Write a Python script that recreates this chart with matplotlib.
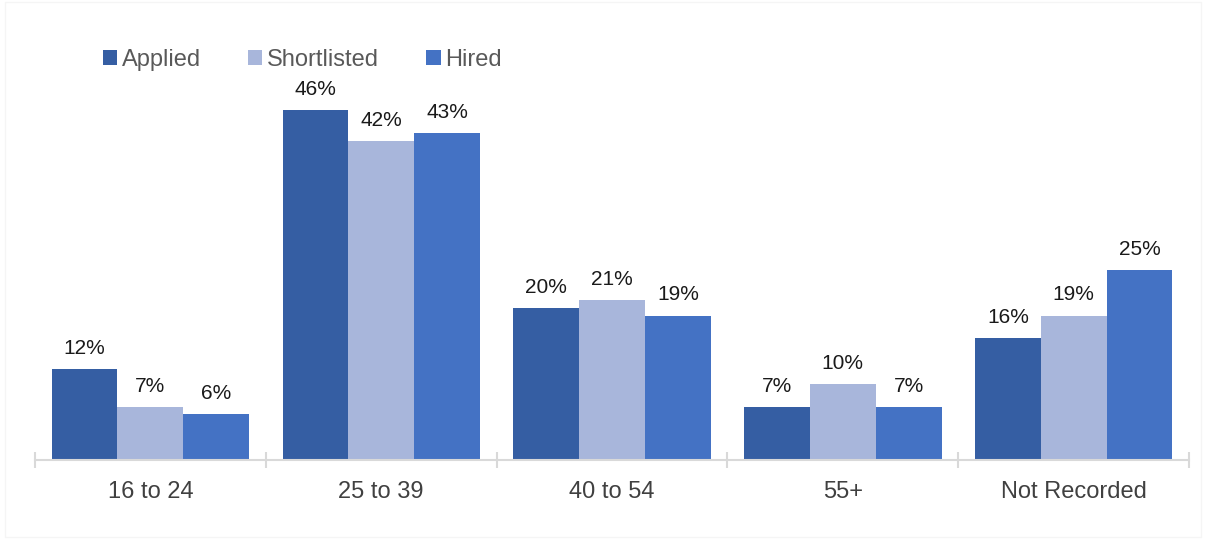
import numpy as np
import matplotlib.pyplot as plt

plt.rcParams['font.family'] = ['Liberation Sans', 'DejaVu Sans']

groups = ['16 to 24', '25 to 39', '40 to 54', '55+', 'Not Recorded']
applied = [12, 46, 20, 7, 16]
shortlisted = [7, 42, 21, 10, 19]
hired = [6, 43, 19, 7, 25]

series = [('Applied', applied, '#355EA3'),
          ('Shortlisted', shortlisted, '#A8B6DB'),
          ('Hired', hired, '#4472C4')]

fig = plt.figure(figsize=(12.06, 5.39), dpi=100)
ax = fig.add_axes([0.029, 0.1466, 0.957, 0.705])

x = np.arange(len(groups))
w = 0.285
for i, (name, vals, col) in enumerate(series):
    pos = x + (i - 1) * w
    bars = ax.bar(pos, vals, w, color=col, label=name, zorder=2)
    for b, v in zip(bars, vals):
        ax.annotate(f'{v}%', (b.get_x() + b.get_width() / 2, v),
                    xytext=(0, 8), textcoords='offset points',
                    ha='center', va='bottom', fontsize=15, color='#1a1a1a')

ax.set_xlim(-0.5, len(groups) - 0.5)
ax.set_ylim(0, 50)
ax.set_yticks([])
for s in ['top', 'right', 'left']:
    ax.spines[s].set_visible(False)
ax.spines['bottom'].set_color('#D9D9D9')
ax.spines['bottom'].set_linewidth(1.5)

ax.set_xticks(x)
ax.set_xticklabels(groups, fontsize=17, color='#404040')
ax.tick_params(axis='x', which='major', length=0, pad=15)
ax.set_xticks(np.arange(-0.5, len(groups)), minor=True)
ax.tick_params(axis='x', which='minor', direction='inout', length=11,
               width=1.5, color='#D9D9D9')

ax.legend(loc='upper left', bbox_to_anchor=(0.059, 1.081), ncol=3, frameon=False,
          fontsize=17, labelcolor='#595959', handlelength=0.6, handleheight=0.6,
          handletextpad=0.2, columnspacing=2.0, borderaxespad=0, borderpad=0)

fig.patches.append(plt.Rectangle((0.004, 0.004), 0.992, 0.992, transform=fig.transFigure,
                                 fill=False, edgecolor='#F5F5F5', linewidth=1))

fig.savefig('out.png', dpi=100)
